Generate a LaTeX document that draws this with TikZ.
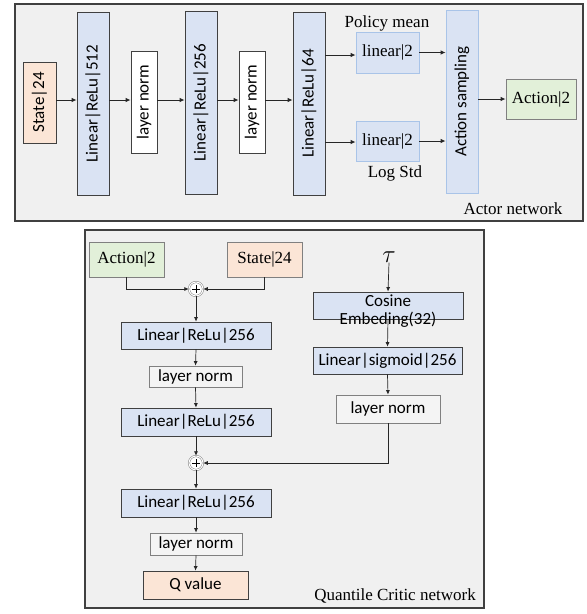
\documentclass[tikz,border=0pt]{standalone}
\usepackage{fontspec}
\setmainfont{Liberation Serif}
\newfontfamily\carlfont{Carlito}
\usetikzlibrary{arrows.meta,calc}
\definecolor{blueF}{HTML}{DAE3F3}
\definecolor{orangeF}{HTML}{FBE5D6}
\definecolor{greenF}{HTML}{E2F0D9}
\definecolor{bgF}{HTML}{F0F0F0}
\definecolor{lnF}{HTML}{F4F4F4}
\definecolor{bord}{HTML}{404040}
\definecolor{lightB}{HTML}{A9C4E8}
\tikzset{
  box/.style={draw=bord, line width=0.7pt, inner sep=0pt, font=\carlfont\fontsize{17}{15}\selectfont, align=center},
  vbox/.style={box, rotate=90},
  sbox/.style={draw=lightB, line width=0.7pt, inner sep=0pt, font=\fontsize{17}{17}\selectfont, fill=blueF},
  lbl/.style={inner sep=0pt, font=\fontsize{17}{17}\selectfont},
  arr/.style={-{Latex[length=5pt,width=4.5pt]}, line width=1pt, black!85},
  carr/.style={-{Latex[length=4.5pt,width=4pt]}, line width=0.7pt, black!85},
  frame/.style={draw=bord, line width=1.2pt, fill=bgF},
  plus/.style={circle, draw=gray, double=white, double distance=1pt, line width=0.5pt, minimum size=14pt, inner sep=0pt, fill=white}
}
\begin{document}
\begin{tikzpicture}[x=1pt,y=-1pt]
\useasboundingbox (0,0) rectangle (587,614);
% frames
\draw[frame] (15,4) rectangle (583,221);
\draw[frame] (85,230) rectangle (484,608);
% ---------- actor ----------
\node[vbox, fill=orangeF, minimum width=81pt, minimum height=33pt] (st1) at (39.5,102.5) {State|24};
\node[vbox, fill=blueF, minimum width=183pt, minimum height=32pt] (l512) at (93,103.5) {Linear|ReLu|512};
\node[vbox, fill=white, minimum width=102pt, minimum height=26pt] (ln1) at (144,102) {layer norm};
\node[vbox, fill=blueF, minimum width=183pt, minimum height=32pt] (l256) at (201,102.5) {Linear|ReLu|256};
\node[vbox, fill=white, minimum width=102pt, minimum height=26pt] (ln2) at (252,102) {layer norm};
\node[vbox, fill=blueF, minimum width=183pt, minimum height=32pt] (l64) at (309,103.5) {Linear|ReLu|64};
\node[sbox, minimum width=63pt, minimum height=41pt] (pm) at (387.5,52.5) {linear|2};
\node[sbox, minimum width=63pt, minimum height=40pt] (ls) at (387.5,141) {linear|2};
\node[vbox, draw=lightB, fill=blueF, minimum width=183pt, minimum height=32pt] (as) at (462,101.5) {Action sampling};
\node[box, draw=gray, fill=greenF, font=\fontsize{17}{17}\selectfont, minimum width=70pt, minimum height=40pt] (act) at (541,99) {Action|2};
\node[lbl] (pml) at (387,23) {Policy mean};
\node[lbl] (lsl) at (395,173) {Log Std};
\node[lbl] (anl) at (513,209) {Actor network};
\coordinate (ya) at (0,100);
\draw[arr] (st1.south |- ya) -- (l512.north |- ya);
\draw[arr] (l512.south |- ya) -- (ln1.north |- ya);
\draw[arr] (ln1.south |- ya) -- (l256.north |- ya);
\draw[arr] (l256.south |- ya) -- (ln2.north |- ya);
\draw[arr] (ln2.south |- ya) -- (l64.north |- ya);
\coordinate (yp) at (0,55);
\coordinate (yl) at (0,142);
\draw[arr] (l64.south |- yp) -- (pm.west |- yp);
\draw[arr] (l64.south |- yl) -- (ls.west |- yl);
\draw[arr] (pm.east) -- (as.north |- pm.east);
\draw[arr] (ls.east) -- (as.north |- ls.east);
\draw[arr] (as.south |- act.west) -- (act.west);
% ---------- critic ----------
\node[box, draw=gray, fill=greenF, font=\fontsize{17}{17}\selectfont, minimum width=75pt, minimum height=35pt] (ca) at (126.5,259.5) {Action|2};
\node[box, draw=gray, fill=orangeF, font=\fontsize{17}{17}\selectfont, minimum width=75pt, minimum height=35pt] (cs) at (264.5,259.5) {State|24};
\node[plus] (p1) at (196,289) {};
\draw[line width=0.7pt] ($(p1.center)+(-4,0)$) -- ($(p1.center)+(4,0)$) ($(p1.center)+(0,-4)$) -- ($(p1.center)+(0,4)$);
\node[box, fill=blueF, minimum width=150pt, minimum height=27pt] (c1) at (196,335.5) {Linear|ReLu|256};
\node[box, draw=gray, fill=lnF, minimum width=93pt, minimum height=21pt] (cn1) at (195.5,376.5) {layer norm};
\node[box, fill=blueF, minimum width=150pt, minimum height=28pt] (c2) at (196,422) {Linear|ReLu|256};
\node[plus] (p2) at (196,463) {};
\draw[line width=0.7pt] ($(p2.center)+(-4,0)$) -- ($(p2.center)+(4,0)$) ($(p2.center)+(0,-4)$) -- ($(p2.center)+(0,4)$);
\node[box, fill=blueF, minimum width=150pt, minimum height=28pt] (c3) at (196,503) {Linear|ReLu|256};
\node[box, draw=gray, fill=lnF, minimum width=92pt, minimum height=22pt] (cn2) at (196,544) {layer norm};
\node[box, fill=orangeF, minimum width=105pt, minimum height=28pt] (q) at (195.5,585) {Q value};
\node[inner sep=0pt, font=\fontsize{24}{24}\selectfont] (tau) at (389,257) {$\tau$};
\node[box, fill=blueF, minimum width=150pt, minimum height=27pt] (ce) at (388,305.5) {};
\node[inner sep=0pt, align=center, font=\carlfont\fontsize{17}{18}\selectfont] (cet) at (388,311) {Cosine\\Embeding(32)};
\node[box, fill=blueF, minimum width=149pt, minimum height=27pt] (cl) at (387.5,360.5) {Linear|sigmoid|256};
\node[box, draw=gray, fill=lnF, minimum width=104pt, minimum height=28pt] (cn3) at (388,409) {layer norm};
\node[lbl] (qcl) at (395,596) {Quantile Critic network};
\draw[carr] (ca.south) |- (p1.west);
\draw[carr] (cs.south) |- (p1.east);
\draw[carr] (p1.south) -- (c1.north);
\draw[carr] (c1.south) -- (cn1.north);
\draw[carr] (cn1.south) -- (c2.north);
\draw[carr] (c2.south) -- (p2.north);
\draw[carr] (p2.south) -- (c3.north);
\draw[carr] (c3.south) -- (cn2.north);
\draw[carr] (cn2.south) -- (q.north);
\draw[carr] (tau.south) -- (ce.north);
\draw[carr] (ce.south) -- (cl.north);
\draw[carr] (cl.south) -- (cn3.north);
\draw[carr] (cn3.south) |- (p2.east);
\end{tikzpicture}
\end{document}
